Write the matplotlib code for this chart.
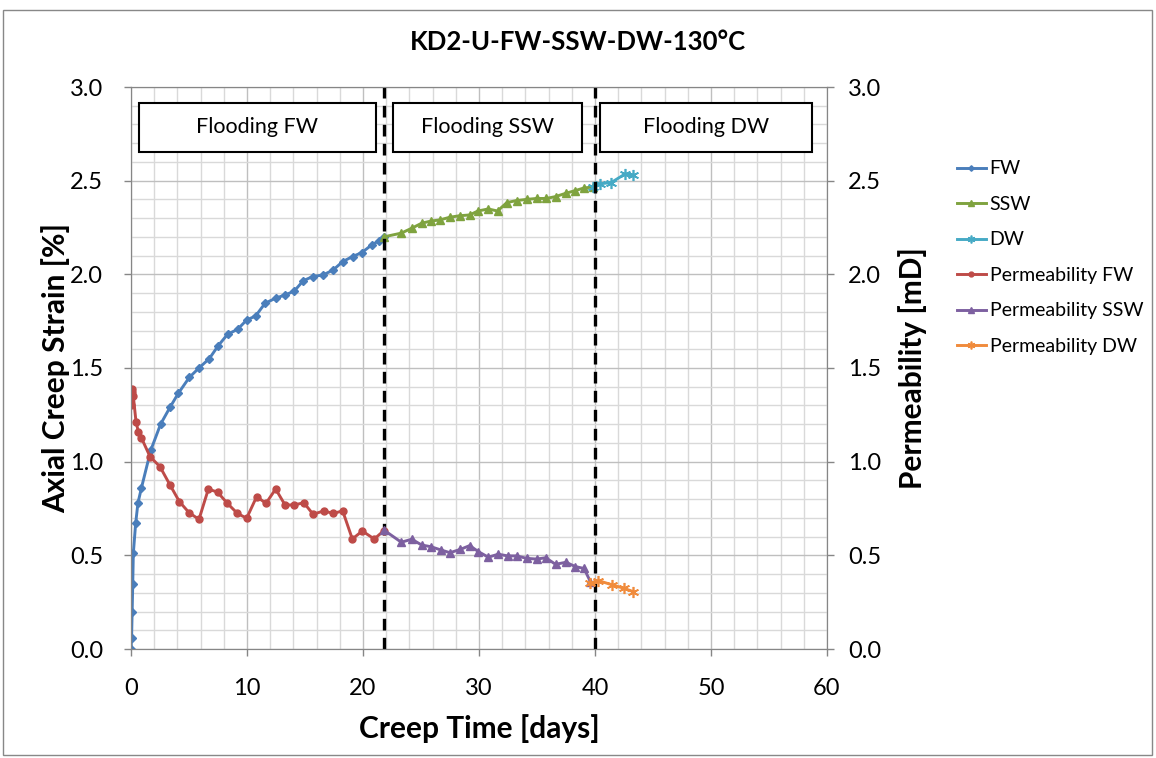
import matplotlib
matplotlib.use("Agg")
import matplotlib.pyplot as plt
import numpy as np
from matplotlib.patches import Rectangle
from matplotlib.ticker import MultipleLocator, FormatStrFormatter

plt.rcParams['font.family'] = ['Lato', 'DejaVu Sans']

# strain data (days, %)
fw_t = [0.0, 0.05, 0.1, 0.15, 0.2, 0.4, 0.6, 0.9, 1.7, 2.55, 3.36, 4.08, 5.03, 5.86, 6.75,
        7.53, 8.33, 9.2, 9.97, 10.75, 11.55, 12.47, 13.3, 14.08, 14.85, 15.66, 16.58,
        17.44, 18.25, 19.1, 19.9, 20.75, 21.4, 21.8]
fw_s = [0.0, 0.06, 0.2, 0.345, 0.51, 0.67, 0.78, 0.86, 1.06, 1.2, 1.29, 1.365, 1.45, 1.5,
        1.55, 1.62, 1.68, 1.707, 1.756, 1.778, 1.845, 1.873, 1.89, 1.911, 1.966, 1.988,
        1.997, 2.024, 2.068, 2.095, 2.116, 2.157, 2.18, 2.2]
ssw_t = [21.8, 23.3, 24.2, 25.06, 25.9, 26.6, 27.5, 28.36, 29.2, 29.9, 30.8, 31.6, 32.4,
         33.25, 34.1, 34.97, 35.8, 36.6, 37.5, 38.3, 39.05, 39.8]
ssw_s = [2.2, 2.22, 2.246, 2.273, 2.285, 2.29, 2.305, 2.313, 2.317, 2.338, 2.349, 2.338,
         2.383, 2.394, 2.4, 2.405, 2.405, 2.415, 2.433, 2.447, 2.461, 2.466]
dw_t = [39.8, 40.4, 41.4, 42.6, 43.3]
dw_s = [2.466, 2.483, 2.49, 2.536, 2.53]

# permeability data (days, mD)
pfw_t = [0.0, 0.05, 0.1, 0.2, 0.43, 0.63, 0.89, 1.64, 2.5, 3.36, 4.17, 5.0, 5.86, 6.67,
         7.47, 8.3, 9.17, 9.97, 10.83, 11.64, 12.47, 13.28, 14.08, 14.9, 15.7, 16.6,
         17.44, 18.25, 19.08, 19.94, 20.97, 21.8]
pfw_k = [1.3, 1.39, 1.37, 1.35, 1.214, 1.16, 1.128, 1.027, 0.973, 0.876, 0.787, 0.728,
         0.692, 0.854, 0.837, 0.778, 0.724, 0.698, 0.813, 0.778, 0.854, 0.769, 0.769,
         0.781, 0.719, 0.737, 0.724, 0.737, 0.587, 0.63, 0.587, 0.632]
pssw_t = [21.8, 23.3, 24.2, 25.06, 25.86, 26.7, 27.5, 28.4, 29.2, 29.94, 30.8, 31.66,
          32.47, 33.25, 34.1, 34.97, 35.75, 36.6, 37.5, 38.3, 39.05, 39.6]
pssw_k = [0.635, 0.57, 0.586, 0.555, 0.546, 0.529, 0.514, 0.532, 0.552, 0.52, 0.49, 0.506,
          0.497, 0.497, 0.484, 0.48, 0.487, 0.452, 0.463, 0.44, 0.43, 0.36]
pdw_t = [39.6, 40.3, 41.5, 42.5, 43.3]
pdw_k = [0.35, 0.365, 0.342, 0.324, 0.306]

stage_x = [21.8, 40.0]
stage_labels = ["Flooding FW", "Flooding SSW", "Flooding DW"]
stage_boxes = [(0.7, 21.1), (22.6, 38.9), (40.4, 58.7)]

c_fw, c_pfw = '#4A7EBB', '#BE4B48'
c_ssw, c_pssw = '#7FA33F', '#7D60A0'
c_dw, c_pdw = '#46AAC5', '#F08B3C'
aster = (6, 2, 0)

fig = plt.figure(figsize=(11.56, 7.58), dpi=100)
ax = fig.add_axes([131/1156, 1-649/758, (827-131)/1156, (649-87)/758])
ax2 = ax.twinx()

lw = 2.1
h1, = ax.plot(fw_t, fw_s, color=c_fw, lw=lw, marker='D', ms=4, label='FW')
h2, = ax.plot(ssw_t, ssw_s, color=c_ssw, lw=lw, marker='^', ms=6, label='SSW')
h3, = ax.plot(dw_t, dw_s, color=c_dw, lw=lw, marker=aster, ms=8, mew=1.2, label='DW')
h4, = ax2.plot(pfw_t, pfw_k, color=c_pfw, lw=lw, marker='o', ms=5, label='Permeability FW')
h5, = ax2.plot(pssw_t, pssw_k, color=c_pssw, lw=lw, marker='^', ms=6, label='Permeability SSW')
h6, = ax2.plot(pdw_t, pdw_k, color=c_pdw, lw=lw, marker=aster, ms=8, mew=1.2,
               label='Permeability DW')

for a in (ax, ax2):
    a.set_xlim(0, 60)
    a.set_ylim(0, 3.0)
    a.yaxis.set_major_locator(MultipleLocator(0.5))
    a.yaxis.set_major_formatter(FormatStrFormatter('%.1f'))
    a.tick_params(axis='both', which='major', labelsize=17, length=5, width=1,
                  color='#868686')
    a.tick_params(which='minor', length=0)
    for s in a.spines.values():
        s.set_color('#868686')

ax.tick_params(axis='x', pad=16)
ax.tick_params(axis='y', pad=15)
ax2.tick_params(axis='y', pad=10)

ax.xaxis.set_major_locator(MultipleLocator(10))
ax.xaxis.set_minor_locator(MultipleLocator(2))
ax.yaxis.set_minor_locator(MultipleLocator(0.1))
ax.grid(which='minor', color='#D9D9D9', lw=1)
ax.grid(which='major', color='#BFBFBF', lw=1)
ax.set_axisbelow(True)

for xv in stage_x:
    ax.axvline(xv, color='k', lw=2.4, ls=(0, (3.5, 2.2)), zorder=5)

for (x0, x1), lab in zip(stage_boxes, stage_labels):
    ax.add_patch(Rectangle((x0, 2.654), x1 - x0, 0.261, facecolor='white',
                           edgecolor='black', lw=1.5, zorder=6))
    ax.text((x0 + x1) / 2, 2.785, lab, ha='center', va='center', fontsize=15.5, zorder=7)

ax.set_xlabel('Creep Time [days]', fontsize=21.5, fontweight='bold', labelpad=11)
ax.set_ylabel('Axial Creep Strain [%]', fontsize=21.5, fontweight='bold', labelpad=0)
ax2.set_ylabel('Permeability [mD]', fontsize=21.5, fontweight='bold', labelpad=12)
fig.text(578/1156, 1-42/758, 'KD2-U-FW-SSW-DW-130°C', ha='center', va='center',
         fontsize=18.5, fontweight='bold')

fig.legend(handles=[h1, h2, h3, h4, h5, h6], loc='upper left',
           bbox_to_anchor=(939/1156, 1-143/758), frameon=False, fontsize=14,
           handlelength=1.5, handletextpad=0.2, labelspacing=0.95, numpoints=1,
           markerscale=0.7)

fig.patches.append(Rectangle((3/1156, 3/758), 1149/1156, 745/758, transform=fig.transFigure,
                             fill=False, edgecolor='#888888', lw=1))

fig.savefig('out.png', dpi=100)
